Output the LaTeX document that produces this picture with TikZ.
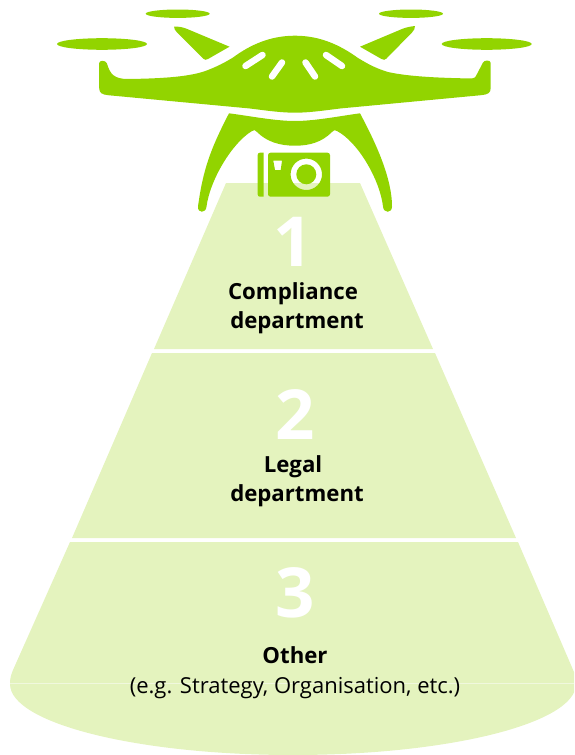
\documentclass[tikz,border=0pt]{standalone}
\usepackage{fontspec}
\setmainfont{Open Sans}
\definecolor{dronegreen}{HTML}{92D400}
\definecolor{beam}{HTML}{E4F3BE}
\definecolor{beamline}{HTML}{F0F8DE}
\tikzset{
  drone/.style={fill=dronegreen,draw=none},
  beamfill/.style={fill=beam,draw=none},
  slot/.style={draw=white,line width=6.5pt,line cap=round},
  lab/.style={font=\bfseries\fontsize{22.2}{26}\selectfont,align=center,text=black,inner sep=0pt},
  sublab/.style={font=\fontsize{22}{26}\selectfont,text=black,inner sep=0pt},
  num/.style={font=\bfseries\fontsize{69}{69}\selectfont,text=white,inner sep=0pt},
}
\begin{document}
\begin{tikzpicture}[x=1pt,y=-1pt]
\useasboundingbox (0,0) rectangle (574,755);
\clip (0,0) rectangle (574,755);
% beam
\path[beamfill] (226,183) -- (360,183) -- (433,349) -- (154,349) -- cycle;
\path[beamfill] (152,353) -- (435,353) -- (516,538) -- (72,538) -- cycle;
\path[beamfill] (70,542) -- (518,542) -- (574,672) -- (576,684)
   arc[start angle=0,end angle=180,x radius=283,y radius=71]
   .. controls (10,678) and (11,675) .. (13,670) -- cycle;
\draw[beamline,line width=0.8pt] (10,683.5) -- (574,683.5);
% propellers
\path[drone] (177.7,13.7) ellipse[x radius=32,y radius=4.2];
\path[drone] (411,13.7) ellipse[x radius=32,y radius=4.2];
\path[drone] (102,44) ellipse[x radius=45,y radius=5.8];
\path[drone] (486.7,44) ellipse[x radius=45,y radius=5.8];
% arms
\path[drone] (174,26.5) .. controls (178,26.5) and (182,27) .. (186,28.5) -- (229.5,46.7) -- (208,59)
   .. controls (206,60.3) and (204.5,60) .. (203,58.5) -- (177,32.5) .. controls (175,30.5) and (174,28.5) .. (174,26.5) -- cycle;
\path[drone] (415,26) .. controls (411,26.5) and (407,27) .. (402,29) -- (360,46.7) -- (381.5,59)
   .. controls (383.5,60.3) and (385,60) .. (386.5,58.5) -- (412,32.5) .. controls (414,30.5) and (415,28.5) .. (415,26) -- cycle;
% body
\path[drone] (99.2,63) .. controls (99.2,60.5) and (105,59.5) .. (107,63.5)
  .. controls (110,74) and (114,79) .. (128,79)
  .. controls (165,78.5) and (192,76.5) .. (208,70)
  .. controls (218,66) and (224,63) .. (233,57.5)
  .. controls (250,45) and (270,35.7) .. (295,35.7)
  .. controls (320,35.7) and (340,45) .. (358,58)
  .. controls (368,64) and (375,68) .. (388,72)
  .. controls (410,77) and (445,78) .. (472,78.5)
  .. controls (475,78.5) and (475.5,77) .. (477,74)
  -- (483,62.5) .. controls (484,60) and (490.7,59.5) .. (490.7,63)
  -- (490.7,88) .. controls (490.7,93) and (488,94.5) .. (481,95.2)
  -- (340,108.5) .. controls (322,110.8) and (308,112.7) .. (295,112.7)
  .. controls (282,112.7) and (268,110.8) .. (250,108.5)
  -- (108,95.2) .. controls (102,94.5) and (99.2,93) .. (99.2,88) -- cycle;
\draw[slot] (245.5,66) -- (262.5,55);
\draw[slot] (272,76.5) -- (282,62.5);
\draw[slot] (305.5,62.5) -- (315,76.5);
\draw[slot] (326,55) -- (342,66);
% legs
\path[drone] (229,113.3) .. controls (250,116) and (275,121) .. (295,121)
  .. controls (315,121) and (340,116) .. (360,113.3)
  .. controls (372,136) and (392,175) .. (392,206.5)
  .. controls (392,213.5) and (383.5,213.5) .. (383,206.5)
  .. controls (380,180) and (358,142) .. (337,131)
  .. controls (335,129.5) and (334,130) .. (332,132)
  .. controls (322,142) and (310,145.7) .. (295,145.7)
  .. controls (280,145.7) and (267,142) .. (257,132)
  .. controls (255.5,130) and (254,129.5) .. (252,131)
  .. controls (232,143) and (210,180) .. (206.5,206.5)
  .. controls (206,213.5) and (197.5,213.5) .. (198,206.5)
  .. controls (203,170) and (210,150) .. (229,113.3) -- cycle;
% camera
\path[drone] (257.7,155) .. controls (257.7,153.5) and (258.7,152.7) .. (260,152.7) -- (263.7,152.7) -- (263.7,196.7) -- (260,196.7) .. controls (258.7,196.7) and (257.7,196) .. (257.7,194.5) -- cycle;
\path[drone,even odd rule] [rounded corners=2.5pt] (268,152.7) -- (330,152.7) -- (330,196.7) -- (268,196.7) -- cycle
  [sharp corners] (273.3,160.7) -- (282,160.7) -- (280.7,170) -- (275,170) -- cycle
  (306.3,174.3) circle[radius=15.7] (306.3,174.3) circle[radius=10];
% labels
\node[num] (n1) at (293,242) {1};
\node[num] (n2) at (295,415) {2};
\node[num] (n3) at (295,593) {3};
\node[lab] (l1a) at (293,294) {Compliance};
\node[lab] (l1b) at (297,323) {department};
\node[lab] (l2a) at (293,467) {Legal};
\node[lab] (l2b) at (297,496) {department};
\node[lab] (l3a) at (295,655) {Other};
\node[sublab] (l3b) at (295,688) {(e.g. Strategy, Organisation, etc.)};
\end{tikzpicture}
\end{document}
